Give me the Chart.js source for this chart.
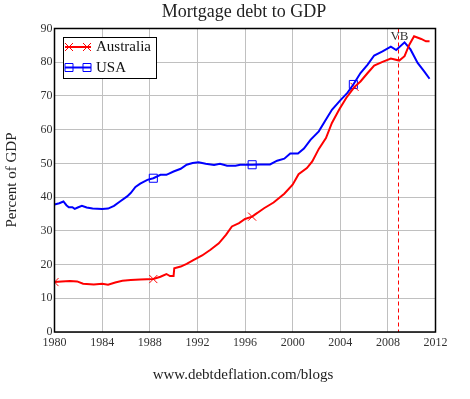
<!DOCTYPE html>
<html><head><meta charset="utf-8">
<script src="https://cdn.jsdelivr.net/npm/chart.js@4/dist/chart.umd.min.js"></script>
<style>html,body{margin:0;padding:0;background:#fff;}</style>
</head><body>
<canvas id="c" width="470" height="399" style="display:block;width:470px;height:399px"></canvas>
<script>
// ---- data ----
const usaYears = [1980.0,1980.4,1980.75,1981.0,1981.2,1981.5,1981.7,1982.0,1982.3,1982.7,1983.2,1984.0,1984.5,1985.0,1985.5,1986.1,1986.4,1986.8,1987.2,1987.8,1988.3,1988.9,1989.4,1990.0,1990.6,1991.1,1991.6,1992.1,1992.7,1993.4,1993.9,1994.5,1995.2,1995.6,1996.0,1996.6,1997.3,1998.1,1998.7,1999.3,1999.8,2000.45,2000.95,2001.5,2002.2,2002.8,2003.3,2004.0,2004.6,2005.1,2005.7,2006.3,2006.85,2007.55,2008.25,2008.7,2009.4,2009.9,2010.5,2011.05,2011.5];
const usaValues = [37.8,38.2,38.7,37.6,37.0,37.0,36.5,37.0,37.4,36.9,36.6,36.5,36.6,37.4,38.7,40.2,41.2,43.0,44.0,45.1,45.6,46.6,46.6,47.6,48.4,49.6,50.1,50.3,49.9,49.5,49.9,49.3,49.3,49.6,49.6,49.6,49.7,49.7,50.8,51.4,52.9,52.9,54.4,57.0,59.5,63.0,65.9,68.7,70.9,73.4,76.8,79.3,82.0,83.2,84.6,83.6,85.9,83.8,79.8,77.3,75.1];
const ausYears = [1980.0,1980.6,1981.3,1981.9,1982.4,1983.3,1984.0,1984.5,1985.1,1985.7,1986.4,1987.2,1988.3,1988.9,1989.4,1989.7,1990.0,1990.06,1990.6,1991.1,1991.7,1992.4,1993.1,1993.8,1994.4,1994.9,1995.5,1996.0,1996.6,1997.6,1998.4,1999.3,2000.0,2000.5,2001.2,2001.65,2002.2,2002.8,2003.3,2003.9,2004.5,2005.2,2005.7,2006.3,2006.85,2007.55,2008.25,2008.95,2009.4,2009.8,2010.2,2010.8,2011.2,2011.5];
const ausValues = [14.8,15.0,15.1,15.0,14.3,14.1,14.3,14.0,14.7,15.2,15.4,15.6,15.7,16.4,17.2,16.6,16.6,18.9,19.4,20.2,21.4,22.7,24.4,26.3,28.8,31.3,32.3,33.5,34.2,36.7,38.4,41.0,43.7,46.8,48.6,50.6,54.3,57.5,62.0,65.9,69.4,72.7,74.3,76.8,79.0,80.1,81.1,80.5,81.8,85.2,87.7,86.9,86.2,86.2];
const ausMarkerYears = [1980.0,1988.3,1996.6,2005.2];
const ausMarkerValues = [14.8,15.7,34.2,72.7];
const usaMarkerYears = [1988.3,1996.6,2005.1];
const usaMarkerValues = [45.6,49.6,73.4];
const vbYear = [2008.87];
const vbLabel = ['VB'];
const seriesNames = ['Australia','USA'];
const xTicks = [1980,1984,1988,1992,1996,2000,2004,2008,2012];
const yTicks = [0,10,20,30,40,50,60,70,80,90];
const titleText = 'Mortgage debt to GDP';
const yTitle = 'Percent of GDP';
const footerText = 'www.debtdeflation.com/blogs';

const pts = (xs, ys) => xs.map((x, i) => ({x, y: ys[i]}));
const SERIF = '"Liberation Serif","DejaVu Serif",serif';
const RED = '#ff0000', BLUE = '#0000ff';

const deco = {
  id: 'deco',
  beforeDatasetsDraw(chart) {
    const {ctx, chartArea: a, scales: {x}} = chart;
    ctx.save();
    vbYear.forEach((v, i) => {
      const px = Math.round(x.getPixelForValue(v)) + 0.5;
      ctx.strokeStyle = RED; ctx.lineWidth = 1; ctx.setLineDash([4, 3]);
      ctx.beginPath(); ctx.moveTo(px, a.top); ctx.lineTo(px, a.bottom); ctx.stroke();
      ctx.setLineDash([]);
      ctx.fillStyle = '#333'; ctx.font = '13px ' + SERIF;
      ctx.textAlign = 'center'; ctx.textBaseline = 'middle';
      ctx.fillText(vbLabel[i], px + 1, a.top + 8);
    });
    ctx.restore();
  },
  afterDraw(chart) {
    const {ctx, chartArea: a} = chart;
    ctx.save();
    ctx.strokeStyle = '#000'; ctx.lineWidth = 1.5;
    ctx.strokeRect(a.left, a.top, a.right - a.left, a.bottom - a.top);
    ctx.fillStyle = '#222';
    ctx.textAlign = 'center'; ctx.textBaseline = 'middle';
    ctx.font = '18px ' + SERIF;
    ctx.fillText(titleText, 244, 12);
    ctx.font = '15px ' + SERIF;
    ctx.fillText(footerText, 243, 375);
    ctx.save();
    ctx.translate(12, 180); ctx.rotate(-Math.PI / 2);
    ctx.font = '15px ' + SERIF;
    ctx.fillText(yTitle, 0, 0);
    ctx.restore();
    // legend
    const lx = 63.5, ly = 37.5, lw = 93, lh = 41;
    ctx.fillStyle = '#fff'; ctx.fillRect(lx, ly, lw, lh);
    ctx.strokeStyle = '#000'; ctx.lineWidth = 1; ctx.strokeRect(lx, ly, lw, lh);
    const rows = [{c: RED, y: 47, t: seriesNames[0], m: 'x'}, {c: BLUE, y: 67.5, t: seriesNames[1], m: 's'}];
    rows.forEach(r => {
      ctx.strokeStyle = r.c; ctx.lineWidth = 2;
      ctx.beginPath(); ctx.moveTo(65, r.y); ctx.lineTo(91, r.y); ctx.stroke();
      ctx.lineWidth = 1;
      [69, 87].forEach(mx => {
        ctx.beginPath();
        if (r.m === 'x') {
          ctx.moveTo(mx - 4, r.y - 4); ctx.lineTo(mx + 4, r.y + 4);
          ctx.moveTo(mx - 4, r.y + 4); ctx.lineTo(mx + 4, r.y - 4);
        } else {
          ctx.rect(mx - 4, r.y - 4, 8, 8);
        }
        ctx.stroke();
      });
      ctx.fillStyle = '#111'; ctx.font = '15px ' + SERIF;
      ctx.textAlign = 'left'; ctx.textBaseline = 'middle';
      ctx.fillText(r.t, 96, r.y + 0.5);
    });
    ctx.restore();
  }
};

new Chart(document.getElementById('c'), {
  type: 'line',
  data: {
    datasets: [
      {label: seriesNames[0], data: pts(ausYears, ausValues), borderColor: RED, borderWidth: 2, pointRadius: 0, tension: 0, fill: false},
      {label: seriesNames[1], data: pts(usaYears, usaValues), borderColor: BLUE, borderWidth: 2, pointRadius: 0, tension: 0, fill: false},
      {label: 'ausM', data: pts(ausMarkerYears, ausMarkerValues), showLine: false, pointStyle: 'crossRot', pointRadius: 5.7, borderColor: RED, borderWidth: 1, backgroundColor: 'transparent', clip: 0},
      {label: 'usaM', data: pts(usaMarkerYears, usaMarkerValues), showLine: false, pointStyle: 'rect', pointRadius: 5.7, borderColor: BLUE, borderWidth: 1, backgroundColor: 'transparent', clip: 0}
    ]
  },
  options: {
    responsive: false, animation: false, devicePixelRatio: 1,
    layout: {padding: {left: 0, top: 28.5, right: 34.5, bottom: 0}},
    plugins: {legend: {display: false}, title: {display: false}, tooltip: {enabled: false}},
    scales: {
      x: {
        type: 'linear', min: xTicks[0], max: xTicks[xTicks.length - 1],
        afterBuildTicks: s => { s.ticks = xTicks.map(v => ({value: v})); },
        afterFit: s => { s.height = 67; },
        grid: {color: '#c0c0c0', lineWidth: 1, drawTicks: false},
        border: {display: false},
        ticks: {padding: 4, color: '#333', font: {family: SERIF, size: 12}, maxRotation: 0, callback: v => String(v)}
      },
      y: {
        min: yTicks[0], max: yTicks[yTicks.length - 1],
        afterBuildTicks: s => { s.ticks = yTicks.map(v => ({value: v})); },
        afterFit: s => { s.width = 54.5; },
        grid: {color: '#c0c0c0', lineWidth: 1, drawTicks: false},
        border: {display: false},
        ticks: {padding: 2, color: '#333', font: {family: SERIF, size: 12}, callback: v => String(v)}
      }
    }
  },
  plugins: [deco]
});
</script>
</body></html>
